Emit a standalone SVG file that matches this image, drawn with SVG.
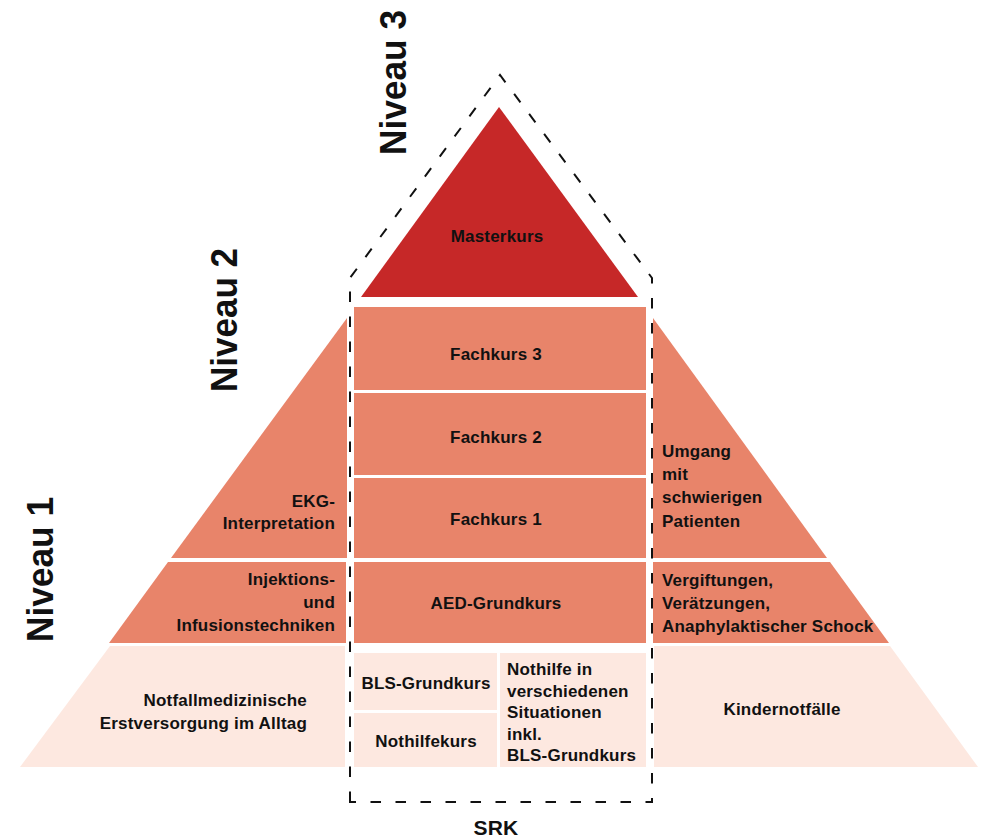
<svg xmlns="http://www.w3.org/2000/svg" width="984" height="840" viewBox="0 0 984 840">
<style>
.t{font-family:"Liberation Sans",Arial,sans-serif;font-weight:bold;font-size:17px;letter-spacing:0.2px;fill:#111}
.c{text-anchor:middle}
.r{text-anchor:end}
.lvl{font-family:"Liberation Sans",Arial,sans-serif;font-weight:bold;font-size:36px;fill:#111;text-anchor:middle}
.red{fill:#C62828}
.sal{fill:#E8846A}
.pink{fill:#FDE8E0}
.dash{fill:none;stroke:#111;stroke-width:2;stroke-dasharray:10.5 14.5}
</style>
<rect width="984" height="840" fill="#fff"/>

<g id="masterkurs">
<polygon class="red" points="499,107 361,297 638,297"/>
<text class="t c" x="497" y="242">Masterkurs</text>
</g>

<g id="fachkurs3">
<rect class="sal" x="354" y="307" width="292" height="83"/>
<text class="t c" x="496" y="360">Fachkurs 3</text>
</g>
<g id="fachkurs2">
<rect class="sal" x="354" y="393" width="292" height="82"/>
<text class="t c" x="496" y="443">Fachkurs 2</text>
</g>
<g id="fachkurs1">
<rect class="sal" x="354" y="478" width="292" height="80"/>
<text class="t c" x="496" y="525">Fachkurs 1</text>
</g>
<g id="aed">
<rect class="sal" x="354" y="562" width="292" height="81"/>
<text class="t c" x="496" y="609">AED-Grundkurs</text>
</g>

<g id="ekg">
<polygon class="sal" points="347,318 347,558 171,558"/>
<text class="t r" x="335" y="507">EKG-</text>
<text class="t r" x="335" y="529">Interpretation</text>
</g>
<g id="injektionen">
<polygon class="sal" points="168,562 346,562 346,643 109,643"/>
<text class="t r" x="335" y="585">Injektions-</text>
<text class="t r" x="335" y="608">und</text>
<text class="t r" x="335" y="631">Infusionstechniken</text>
</g>

<g id="umgang">
<polygon class="sal" points="653,318 653,558 827,558"/>
<text class="t" x="662" y="457">Umgang</text>
<text class="t" x="662" y="480">mit</text>
<text class="t" x="662" y="503">schwierigen</text>
<text class="t" x="662" y="527">Patienten</text>
</g>
<g id="vergiftungen">
<polygon class="sal" points="653,562 830,562 889,643 653,643"/>
<text class="t" x="662" y="586">Vergiftungen,</text>
<text class="t" x="662" y="609">Verätzungen,</text>
<text class="t" x="662" y="632">Anaphylaktischer Schock</text>
</g>

<g id="notfallmedizin">
<polygon class="pink" points="110,646 345,646 345,767 20,767"/>
<text class="t r" x="307" y="706">Notfallmedizinische</text>
<text class="t r" x="307" y="729">Erstversorgung im Alltag</text>
</g>
<g id="bls">
<rect class="pink" x="354" y="653" width="143" height="57"/>
<text class="t c" x="426" y="689">BLS-Grundkurs</text>
</g>
<g id="nothilfekurs">
<rect class="pink" x="354" y="713" width="143" height="54"/>
<text class="t c" x="426" y="747">Nothilfekurs</text>
</g>
<g id="nothilfe-situationen">
<rect class="pink" x="500" y="653" width="146" height="114"/>
<text class="t" x="507" y="675">Nothilfe in</text>
<text class="t" x="507" y="697">verschiedenen</text>
<text class="t" x="507" y="718">Situationen</text>
<text class="t" x="507" y="740">inkl.</text>
<text class="t" x="507" y="761">BLS-Grundkurs</text>
</g>
<g id="kindernotfaelle">
<polygon class="pink" points="654,646 890,646 978,767 654,767"/>
<text class="t c" x="782" y="715">Kindernotfälle</text>
</g>

<g id="connectors">
<path class="dash" d="M350,802 L350,278 L500,75 L652,278 L652,802 Z"/>
</g>

<g id="srk-label">
<text class="t c" style="font-size:21px" x="496" y="835">SRK</text>
</g>

<g id="niveau3"><text class="lvl" transform="translate(406,82.5) rotate(-90)" textLength="145" lengthAdjust="spacingAndGlyphs">Niveau 3</text></g>
<g id="niveau2"><text class="lvl" transform="translate(237,320) rotate(-90)" textLength="144" lengthAdjust="spacingAndGlyphs">Niveau 2</text></g>
<g id="niveau1"><text class="lvl" transform="translate(53,569.5) rotate(-90)" textLength="145" lengthAdjust="spacingAndGlyphs">Niveau 1</text></g>
</svg>
